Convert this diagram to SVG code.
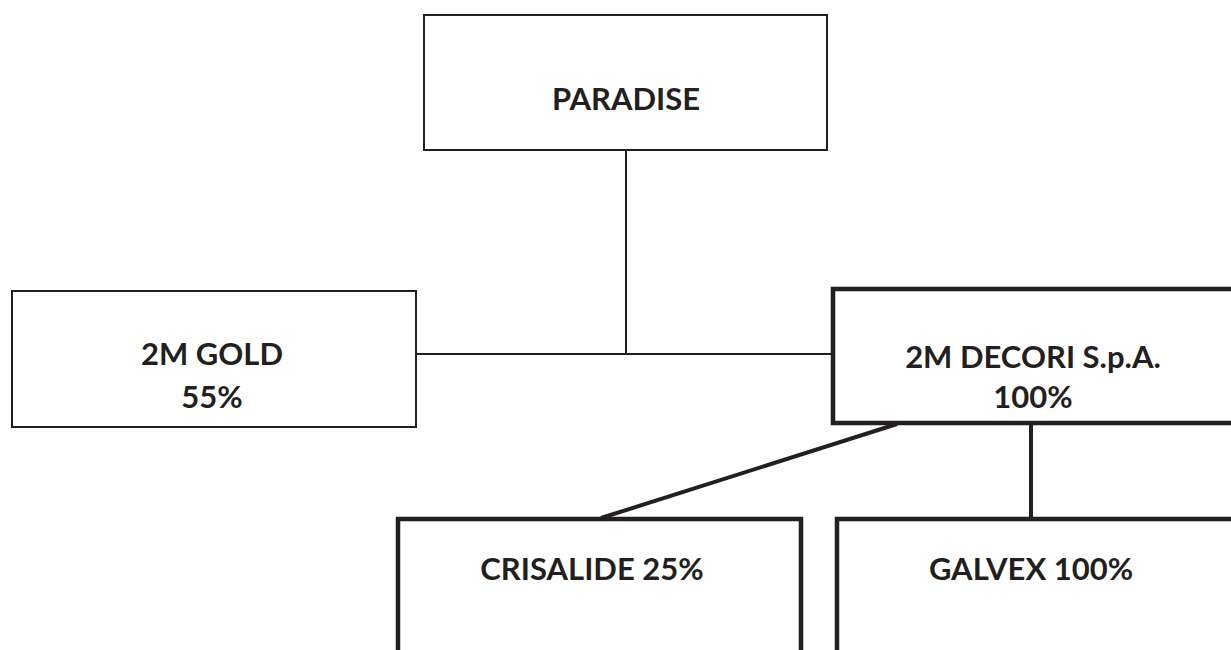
<svg xmlns="http://www.w3.org/2000/svg" width="1231" height="650" viewBox="0 0 1231 650">
<style>
.box{fill:#fff;stroke:#231f20}
.thin{stroke-width:2}
.thick{stroke-width:4.5}
.lbl{font-family:"Lato","Liberation Sans",sans-serif;font-weight:bold;font-size:31px;fill:#231f20;text-anchor:middle}
.con{stroke:#231f20;fill:none}
</style>
<rect width="1231" height="650" fill="#fff"/>
<g id="connectors">
<line class="con" x1="626" y1="150" x2="626" y2="354" stroke-width="2"/>
<line class="con" x1="416" y1="354" x2="832" y2="354" stroke-width="2"/>
<line class="con" x1="897" y1="424" x2="601" y2="518" stroke-width="4"/>
<line class="con" x1="1031" y1="424" x2="1031" y2="518" stroke-width="4"/>
</g>
<g id="paradise">
<rect class="box thin" x="424" y="15" width="403" height="135"/>
<text class="lbl" x="626" y="110">PARADISE</text>
</g>
<g id="gold">
<rect class="box thin" x="12" y="291" width="404" height="136"/>
<text class="lbl" x="212" y="365">2M GOLD</text>
<text class="lbl" x="212" y="408">55%</text>
</g>
<g id="decori">
<rect class="box thick" x="833" y="289" width="402" height="134"/>
<text class="lbl" x="1033" y="368">2M DECORI S.p.A.</text>
<text class="lbl" x="1033" y="408">100%</text>
</g>
<g id="crisalide">
<rect class="box thick" x="398" y="519" width="403" height="140"/>
<text class="lbl" x="592" y="580">CRISALIDE 25%</text>
</g>
<g id="galvex">
<rect class="box thick" x="837" y="519" width="400" height="140"/>
<text class="lbl" x="1031" y="580">GALVEX 100%</text>
</g>
</svg>
